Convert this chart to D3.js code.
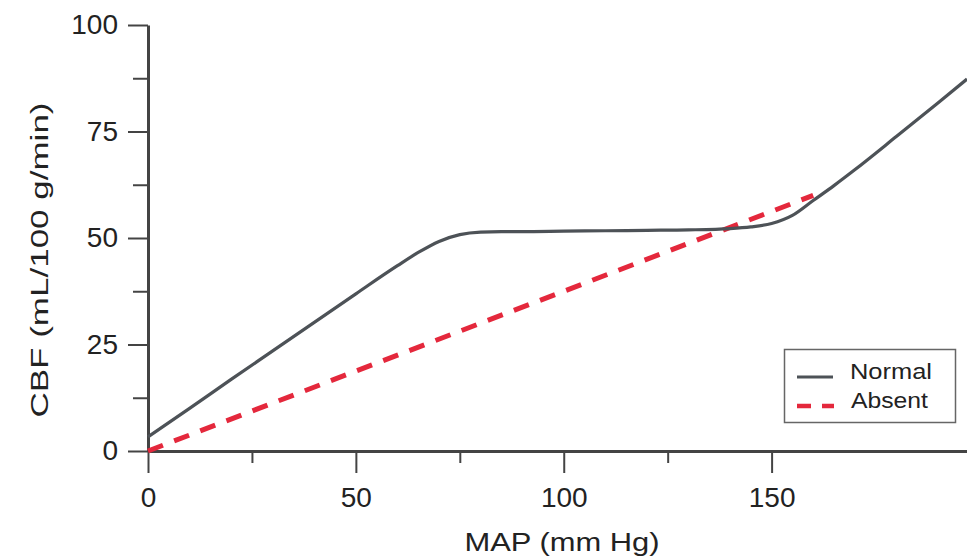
<!DOCTYPE html>
<html>
<head>
<meta charset="utf-8">
<script src="https://cdn.jsdelivr.net/npm/d3@7"></script>
<style>
  html, body { margin: 0; padding: 0; background: #fff; }
  svg { display: block; }
  text { font-family: "Liberation Sans", Arial, Helvetica, sans-serif; }
</style>
</head>
<body>
<svg id="chart" width="967" height="559"></svg>
<script>
// ---- data ----
const normalMAP = [0, 10, 20, 30, 40, 50, 60, 65, 70, 75, 80, 85, 90, 100, 110, 120, 130, 140, 145, 150, 155, 160, 165, 170, 180, 190, 197];
const normalCBF = [3.3, 10, 16.8, 23.5, 30.2, 36.9, 43.5, 46.6, 49.2, 50.8, 51.4, 51.5, 51.5, 51.6, 51.7, 51.8, 51.9, 52.2, 52.6, 53.4, 55.3, 58.8, 62.3, 66, 73.8, 81.7, 87.3];
const absentMAP = [0, 160];
const absentCBF = [0, 60];
const xMajorTicks = [0, 50, 100, 150];
const xMinorTicks = [25, 75, 125];
const yMajorTicks = [0, 25, 50, 75, 100];
const yMinorTicks = [12.5, 37.5, 62.5, 87.5];
const seriesNames = ["Normal", "Absent"];
const xTitle = "MAP (mm Hg)";
const yTitle = "CBF (mL/100 g/min)";

// ---- drawing ----
const svg = d3.select("#chart");
const axisColor = "#444";
const normalColor = "#4d5257";
const absentColor = "#e4283c";

const x = d3.scaleLinear().domain([0, 197]).range([148, 967]);
const y = d3.scaleLinear().domain([0, 100]).range([451, 25]);

function styleAxis(g) {
  g.select(".domain").attr("stroke", axisColor).attr("stroke-width", 3);
  g.selectAll(".tick line").attr("stroke", axisColor).attr("stroke-width", 2);
  g.selectAll(".tick text").attr("fill", "#222").style("font-size", "28px")
    .style("font-family", "'Liberation Sans', Arial, sans-serif");
}

// minor ticks
svg.append("g").attr("transform", `translate(0,${y(0)})`)
  .call(d3.axisBottom(x).tickValues(xMinorTicks).tickSize(12).tickFormat(""))
  .call(g => { g.select(".domain").remove(); g.selectAll(".tick line").attr("stroke", axisColor).attr("stroke-width", 2); });
svg.append("g").attr("transform", `translate(${x(0)},0)`)
  .call(d3.axisLeft(y).tickValues(yMinorTicks).tickSize(15).tickFormat(""))
  .call(g => { g.select(".domain").remove(); g.selectAll(".tick line").attr("stroke", axisColor).attr("stroke-width", 2); });

// major axes
svg.append("g").attr("transform", `translate(0,${y(0)})`)
  .call(d3.axisBottom(x).tickValues(xMajorTicks).tickSize(22).tickSizeOuter(0).tickPadding(14))
  .call(styleAxis);
svg.append("g").attr("transform", `translate(${x(0)},0)`)
  .call(d3.axisLeft(y).tickValues(yMajorTicks).tickSize(20).tickSizeOuter(0).tickPadding(10))
  .call(styleAxis);

// lines
const normalData = normalMAP.map((m, i) => [m, normalCBF[i]]);
const absentData = absentMAP.map((m, i) => [m, absentCBF[i]]);
const line = d3.line().x(d => x(d[0])).y(d => y(d[1])).curve(d3.curveMonotoneX);

svg.append("path").datum(absentData)
  .attr("d", d3.line().x(d => x(d[0])).y(d => y(d[1])))
  .attr("fill", "none").attr("stroke", absentColor).attr("stroke-width", 5)
  .attr("stroke-dasharray", "16,12");

svg.append("path").datum(normalData)
  .attr("d", line)
  .attr("fill", "none").attr("stroke", normalColor).attr("stroke-width", 3.2);

// axis titles
svg.append("text").attr("x", 562).attr("y", 551).attr("text-anchor", "middle")
  .attr("fill", "#222").style("font-size", "25px")
  .attr("textLength", 195).attr("lengthAdjust", "spacingAndGlyphs")
  .text(xTitle);
svg.append("text").attr("transform", "translate(48,260) rotate(-90)").attr("text-anchor", "middle")
  .attr("fill", "#222").style("font-size", "23px")
  .attr("textLength", 315).attr("lengthAdjust", "spacingAndGlyphs")
  .text(yTitle);

// legend
const lg = svg.append("g");
lg.append("rect").attr("x", 784.5).attr("y", 349.5).attr("width", 171).attr("height", 73)
  .attr("fill", "#fff").attr("stroke", "#666").attr("stroke-width", 1.5);
lg.append("line").attr("x1", 797).attr("x2", 833).attr("y1", 377).attr("y2", 377)
  .attr("stroke", normalColor).attr("stroke-width", 3);
lg.append("line").attr("x1", 797).attr("x2", 834).attr("y1", 406).attr("y2", 406)
  .attr("stroke", absentColor).attr("stroke-width", 4.5).attr("stroke-dasharray", "14,11");
lg.append("text").attr("x", 850).attr("y", 379).attr("fill", "#222").style("font-size", "22px")
  .attr("textLength", 82).attr("lengthAdjust", "spacingAndGlyphs").text(seriesNames[0]);
lg.append("text").attr("x", 851).attr("y", 408).attr("fill", "#222").style("font-size", "22px")
  .attr("textLength", 77).attr("lengthAdjust", "spacingAndGlyphs").text(seriesNames[1]);
</script>
</body>
</html>
